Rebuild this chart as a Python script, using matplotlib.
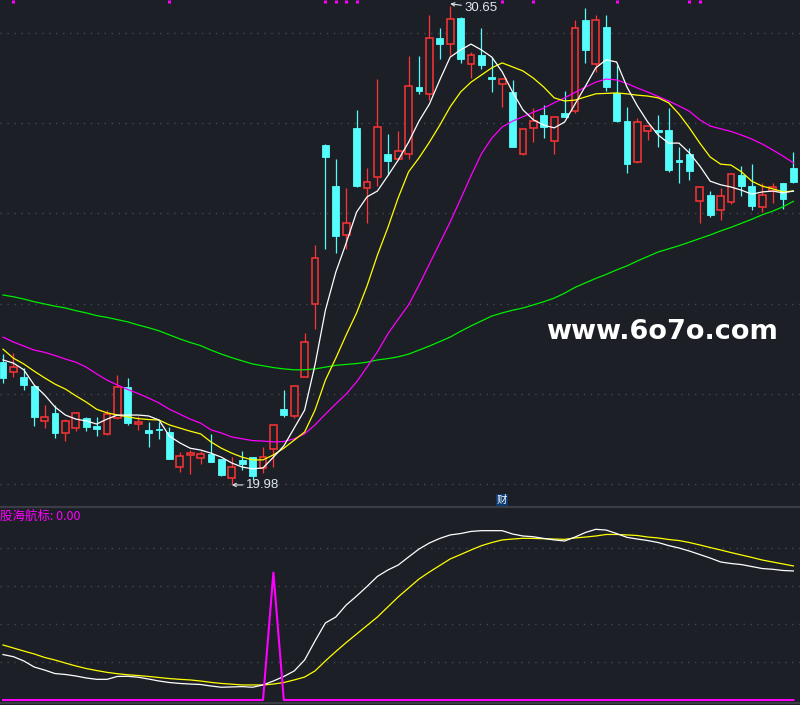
"""K线图 + 均线 + 副图指标(股海航标)"""

import matplotlib
matplotlib.use("Agg")
import matplotlib.pyplot as plt
import numpy as np

plt.rcParams["font.family"] = ["Noto Sans CJK SC", "DejaVu Sans"]
plt.rcParams["axes.unicode_minus"] = False

BG = "#1c1f26"
UP = "#ff3434"
DOWN = "#54fcfc"
GRID = "#444852"

# ---- 日K数据 (开 高 低 收) ----
OPEN = [22.71, 22.47, 22.37, 22.17, 21.38, 21.57, 21.13, 21.24, 21.45, 21.28,
        21.10, 21.46, 22.14, 21.32, 21.19, 21.19, 21.14, 20.35, 20.62, 20.56,
        20.65, 20.53, 20.12, 20.52, 20.58, 20.33, 20.77, 21.66, 21.51, 22.38,
        24.01, 27.55, 26.63, 25.55, 27.92, 26.58, 26.83, 27.35, 27.23, 27.34,
        28.84, 28.68, 29.94, 29.80, 30.38, 29.35, 29.55, 29.07, 28.90, 28.73,
        27.34, 27.92, 28.22, 27.63, 28.26, 28.31, 30.34, 29.35, 30.18, 28.71,
        28.08, 27.16, 27.85, 27.88, 27.88, 27.19, 27.35, 26.30, 26.43, 26.10,
        26.28, 26.88, 26.63, 26.16, 26.52, 26.70, 27.03]
HIGH = [22.88, 22.91, 22.58, 22.18, 21.74, 21.74, 21.43, 21.58, 21.47, 21.47,
        21.63, 22.41, 22.34, 21.50, 21.36, 21.36, 21.26, 20.69, 20.74, 20.72,
        21.09, 20.55, 20.58, 20.72, 20.58, 20.81, 21.30, 22.08, 22.16, 23.36,
        25.32, 27.56, 27.24, 26.58, 28.34, 27.03, 29.02, 27.79, 27.86, 29.53,
        29.53, 30.45, 30.15, 30.65, 30.41, 29.62, 30.15, 29.52, 29.02, 28.99,
        27.91, 28.37, 28.44, 28.18, 28.75, 30.34, 30.60, 30.45, 30.45, 29.33,
        28.39, 28.15, 27.98, 28.22, 28.38, 27.51, 27.48, 26.61, 26.52, 26.58,
        26.90, 27.08, 27.12, 26.69, 26.70, 26.71, 27.39]
LOW = [22.24, 22.38, 22.08, 21.28, 21.24, 21.01, 20.95, 21.16, 21.16, 21.06,
       21.07, 21.44, 21.30, 21.19, 20.81, 20.99, 20.53, 20.26, 20.20, 20.43,
       20.47, 20.17, 19.98, 20.29, 20.07, 20.23, 20.37, 21.48, 21.45, 22.38,
       23.43, 25.23, 25.14, 25.22, 26.62, 25.81, 26.64, 26.88, 27.22, 27.23,
       28.68, 28.55, 29.47, 29.56, 29.37, 29.05, 29.25, 28.74, 28.40, 27.50,
       27.33, 27.62, 27.71, 27.35, 28.17, 28.26, 29.37, 29.18, 28.76, 28.05,
       26.93, 27.15, 27.66, 27.51, 26.95, 26.71, 26.77, 25.81, 25.93, 25.87,
       26.23, 26.42, 26.10, 26.06, 26.25, 26.13, 26.70]
CLOSE = [22.35, 22.59, 22.20, 21.48, 21.47, 21.13, 21.38, 21.56, 21.26, 21.22,
         21.54, 22.14, 21.35, 21.36, 21.13, 21.18, 20.54, 20.60, 20.67, 20.64,
         20.47, 20.19, 20.37, 20.43, 20.17, 20.59, 21.29, 21.52, 22.16, 23.14,
         25.02, 27.29, 25.52, 25.80, 26.63, 26.72, 27.94, 27.18, 27.41, 28.86,
         28.76, 29.93, 29.81, 30.35, 29.47, 29.55, 29.33, 29.03, 29.01, 27.51,
         27.90, 28.08, 27.96, 28.17, 28.18, 30.17, 29.67, 30.33, 28.84, 28.09,
         27.13, 28.05, 27.97, 27.84, 26.99, 27.17, 26.97, 26.60, 25.99, 26.40,
         26.89, 26.64, 26.19, 26.43, 26.60, 26.35, 26.72]

# ---- 均线 ----
MA5 = [22.75, 22.68, 22.53, 22.19, 21.97, 21.70, 21.52, 21.43, 21.39, 21.32,
       21.43, 21.52, 21.52, 21.52, 21.50, 21.41, 21.05, 20.90, 20.78, 20.74,
       20.67, 20.58, 20.45, 20.36, 20.32, 20.34, 20.58, 20.83, 21.23, 21.63,
       22.64, 23.86, 24.71, 25.36, 26.05, 26.39, 26.52, 26.86, 27.21, 27.61,
       28.08, 28.46, 29.00, 29.51, 29.67, 29.80, 29.67, 29.51, 29.18, 28.73,
       28.33, 28.11, 27.99, 27.93, 28.06, 28.46, 28.86, 29.27, 29.45, 29.40,
       28.84, 28.42, 28.06, 27.77, 27.59, 27.59, 27.37, 27.08, 26.74, 26.66,
       26.61, 26.54, 26.45, 26.50, 26.52, 26.48, 26.52]
MA10 = [22.99, 22.79, 22.66, 22.50, 22.35, 22.21, 22.10, 21.95, 21.81, 21.65,
        21.57, 21.52, 21.48, 21.44, 21.42, 21.41, 21.30, 21.23, 21.16, 21.10,
        20.92, 20.78, 20.67, 20.58, 20.52, 20.52, 20.63, 20.78, 20.96, 21.14,
        21.63, 22.30, 22.79, 23.31, 23.80, 24.40, 25.09, 25.70, 26.37, 26.95,
        27.26, 27.61, 27.99, 28.40, 28.73, 28.95, 29.11, 29.27, 29.38, 29.29,
        29.20, 29.04, 28.84, 28.60, 28.53, 28.55, 28.62, 28.69, 28.70, 28.71,
        28.69, 28.66, 28.64, 28.60, 28.49, 28.24, 27.93, 27.59, 27.28, 27.12,
        27.10, 26.95, 26.74, 26.63, 26.57, 26.50, 26.52]
MA20 = [23.26, 23.15, 23.06, 22.97, 22.92, 22.85, 22.77, 22.70, 22.59, 22.44,
        22.30, 22.19, 22.09, 22.00, 21.90, 21.79, 21.65, 21.54, 21.43, 21.34,
        21.19, 21.12, 21.03, 20.99, 20.95, 20.94, 20.92, 20.93, 20.99, 21.10,
        21.30, 21.54, 21.77, 21.99, 22.26, 22.59, 22.93, 23.33, 23.66, 23.98,
        24.42, 24.89, 25.36, 25.83, 26.34, 26.86, 27.35, 27.70, 27.95, 28.08,
        28.18, 28.28, 28.37, 28.49, 28.60, 28.72, 28.84, 28.95, 29.02, 29.00,
        28.92, 28.82, 28.73, 28.63, 28.53, 28.42, 28.30, 28.11, 27.97, 27.91,
        27.85, 27.77, 27.68, 27.57, 27.44, 27.30, 27.15]
MA60 = [24.20, 24.16, 24.11, 24.05, 24.00, 23.95, 23.91, 23.85, 23.80, 23.74,
        23.70, 23.65, 23.60, 23.53, 23.47, 23.40, 23.31, 23.22, 23.14, 23.07,
        22.97, 22.88, 22.80, 22.73, 22.66, 22.62, 22.58, 22.55, 22.53, 22.53,
        22.55, 22.59, 22.63, 22.65, 22.67, 22.70, 22.75, 22.78, 22.82, 22.88,
        22.97, 23.06, 23.16, 23.26, 23.39, 23.51, 23.62, 23.73, 23.80, 23.86,
        23.91, 23.98, 24.05, 24.13, 24.24, 24.37, 24.47, 24.57, 24.66, 24.76,
        24.85, 24.96, 25.06, 25.16, 25.23, 25.30, 25.38, 25.46, 25.54, 25.63,
        25.71, 25.80, 25.89, 25.99, 26.07, 26.17, 26.29]

# 顶部紫色标记所在K线序号
MARK_IDX = [1, 16, 31, 32, 33, 34, 48, 51, 59, 66, 67]

# ---- 副图 股海航标 ----
SUB_WHITE = [29.9, 28.5, 25.7, 21.7, 19.7, 17.4, 16.8, 15.8, 14.5, 13.6,
             13.6, 15.5, 15.6, 15.0, 13.8, 12.5, 11.5, 10.9, 10.5, 10.2,
             9.2, 8.4, 8.6, 8.8, 8.4, 9.9, 12.5, 15.5, 19.1, 26.3,
             38.8, 50.7, 54.6, 62.5, 68.4, 74.7, 81.3, 85.5, 88.8, 94.1,
             99.3, 103.3, 106.3, 108.6, 109.5, 110.9, 111.4, 111.4, 111.4, 109.2,
             107.9, 107.4, 106.3, 105.3, 104.6, 107.2, 110.2, 112.3, 111.8, 109.5,
             107.0, 105.9, 104.9, 103.6, 101.6, 100.0, 98.0, 95.7, 93.4, 90.8,
             89.8, 89.1, 87.8, 86.5, 86.0, 85.2, 84.9]
SUB_YELLOW = [36.2, 34.2, 32.2, 30.3, 28.0, 26.3, 24.3, 22.4, 20.7, 19.4,
              18.2, 17.3, 16.6, 16.1, 15.5, 14.8, 14.1, 13.6, 13.2, 12.5,
              11.6, 10.9, 10.4, 9.9, 9.9, 9.9, 10.5, 11.5, 13.2, 15.1,
              19.1, 25.7, 31.9, 37.8, 43.4, 49.0, 54.6, 61.2, 67.8, 73.7,
              79.6, 84.2, 88.5, 92.8, 95.7, 98.7, 101.5, 103.6, 105.3, 105.9,
              106.4, 106.3, 106.1, 105.9, 105.7, 106.6, 107.2, 107.9, 108.9, 108.9,
              108.6, 108.2, 107.2, 106.6, 105.6, 104.9, 103.6, 102.0, 100.3, 98.7,
              97.0, 95.4, 93.8, 92.1, 90.8, 89.5, 88.2]
SUB_SIGNAL = [0.0, 0.0, 0.0, 0.0, 0.0, 0.0, 0.0, 0.0, 0.0, 0.0,
              0.0, 0.0, 0.0, 0.0, 0.0, 0.0, 0.0, 0.0, 0.0, 0.0,
              0.0, 0.0, 0.0, 0.0, 0.0, 0.0, 83.8, 0.0, 0.0, 0.0,
              0.0, 0.0, 0.0, 0.0, 0.0, 0.0, 0.0, 0.0, 0.0, 0.0,
              0.0, 0.0, 0.0, 0.0, 0.0, 0.0, 0.0, 0.0, 0.0, 0.0,
              0.0, 0.0, 0.0, 0.0, 0.0, 0.0, 0.0, 0.0, 0.0, 0.0,
              0.0, 0.0, 0.0, 0.0, 0.0, 0.0, 0.0, 0.0, 0.0, 0.0,
              0.0, 0.0, 0.0, 0.0, 0.0, 0.0, 0.0]

PRICE_GRID = [19.98, 21.99, 24.00, 26.02, 28.03, 30.05]
SUB_GRID = [25, 50, 75, 100]

W, H = 800, 705
fig = plt.figure(figsize=(W / 100, H / 100), dpi=100, facecolor=BG)
ax = fig.add_axes([0, 198 / H, 1, 507 / H], facecolor=BG)
ax2 = fig.add_axes([0, 2 / H, 1, 196 / H], facecolor=BG)

x = np.arange(len(OPEN))
o, h, l, c = map(np.array, (OPEN, HIGH, LOW, CLOSE))
up = c >= o
body_w = 0.67

# 网格
for g in PRICE_GRID:
    ax.axhline(g, color=GRID, lw=1, ls=(0, (1, 4)), zorder=0)
for g in SUB_GRID:
    ax2.axhline(g, color=GRID, lw=1, ls=(0, (1, 4)), zorder=0)

# 阴线 (实心)
dn = ~up
ax.vlines(x[dn], l[dn], h[dn], color=DOWN, lw=0.9, zorder=2)
ax.bar(x[dn], np.maximum(o[dn] - c[dn], 0.035), body_w, bottom=c[dn],
       color=DOWN, edgecolor=DOWN, lw=0.6, zorder=3)
# 阳线 (空心)
top = np.maximum(o, c)
bot = np.minimum(o, c)
ax.vlines(x[up], l[up], bot[up], color=UP, lw=0.9, zorder=2)
ax.vlines(x[up], top[up], h[up], color=UP, lw=0.9, zorder=2)
ax.bar(x[up], np.maximum(c[up] - o[up], 0.035), body_w, bottom=o[up],
       facecolor=BG, edgecolor=UP, lw=1.1, zorder=3)

# 均线
ax.plot(x, MA60, color="#00ee00", lw=0.9, zorder=4)
ax.plot(x, MA20, color="#ff00ff", lw=0.9, zorder=4)
ax.plot(x, MA10, color="#ffff00", lw=0.9, zorder=4)
ax.plot(x, MA5, color="#ffffff", lw=0.9, zorder=4)

# 顶部标记
ax.vlines(MARK_IDX, 0.994, 1.0, transform=ax.get_xaxis_transform(),
          color="#ff00ff", lw=2.2, zorder=5)

# 最高/最低价标注
i_hi = int(np.argmax(h))
i_lo = int(np.argmin(l))
lab = "#dfe7f0"
ax.annotate(f"{h[i_hi]:.2f}", xy=(i_hi, h[i_hi] + 0.05), xytext=(10, -3),
            textcoords="offset points", color=lab, fontsize=9.5,
            family=["Liberation Sans", "DejaVu Sans"], ha="left", va="center",
            arrowprops=dict(arrowstyle="->", color=lab, lw=0.8,
                            shrinkA=0, shrinkB=0, mutation_scale=6), zorder=6)
ax.annotate(f"{l[i_lo]:.2f}", xy=(i_lo, l[i_lo] - 0.02), xytext=(10, 0),
            textcoords="offset points", color=lab, fontsize=9.5,
            family=["Liberation Sans", "DejaVu Sans"], ha="left", va="center",
            arrowprops=dict(arrowstyle="->", color=lab, lw=0.8,
                            shrinkA=0, shrinkB=0, mutation_scale=6), zorder=6)

ax.set_xlim(-0.2885, 76.635)
ax.set_ylim(19.468, 30.784)
ax.axis("off")

# 副图
ax2.plot(x, SUB_YELLOW, color="#ffff00", lw=0.9, zorder=3)
ax2.plot(x, SUB_WHITE, color="#ffffff", lw=0.9, zorder=3)
ax2.plot(x, SUB_SIGNAL, color="#ff00ff", lw=1.5, zorder=4)
ax2.set_xlim(-0.2885, 76.635)
ax2.set_ylim(-1.97, 126.97)
ax2.set_xticks([])
ax2.set_yticks([])
for side in ("left", "right"):
    ax2.spines[side].set_visible(False)
for side in ("top", "bottom"):
    ax2.spines[side].set_color("#3a3d45")
    ax2.spines[side].set_linewidth(1.6)
ax2.text(0.0, 0.955, f"股海航标: {SUB_SIGNAL[-1]:.2f}", transform=ax2.transAxes,
         color="#ff00ff", fontsize=9, ha="left", va="center")

fig.text(502 / W, 1 - 500 / H, "财", color="white", fontsize=7.5,
         ha="center", va="center",
         bbox=dict(boxstyle="square,pad=0.08", fc="#0b3a72", ec="none"))

fig.text(662 / W, 1 - 332 / H, "www.6o7o.com", color="white", fontsize=19.5,
         fontweight="bold", family=["DejaVu Sans"], ha="center", va="center")

fig.savefig("out.png", dpi=100, facecolor=BG)
plt.close(fig)
